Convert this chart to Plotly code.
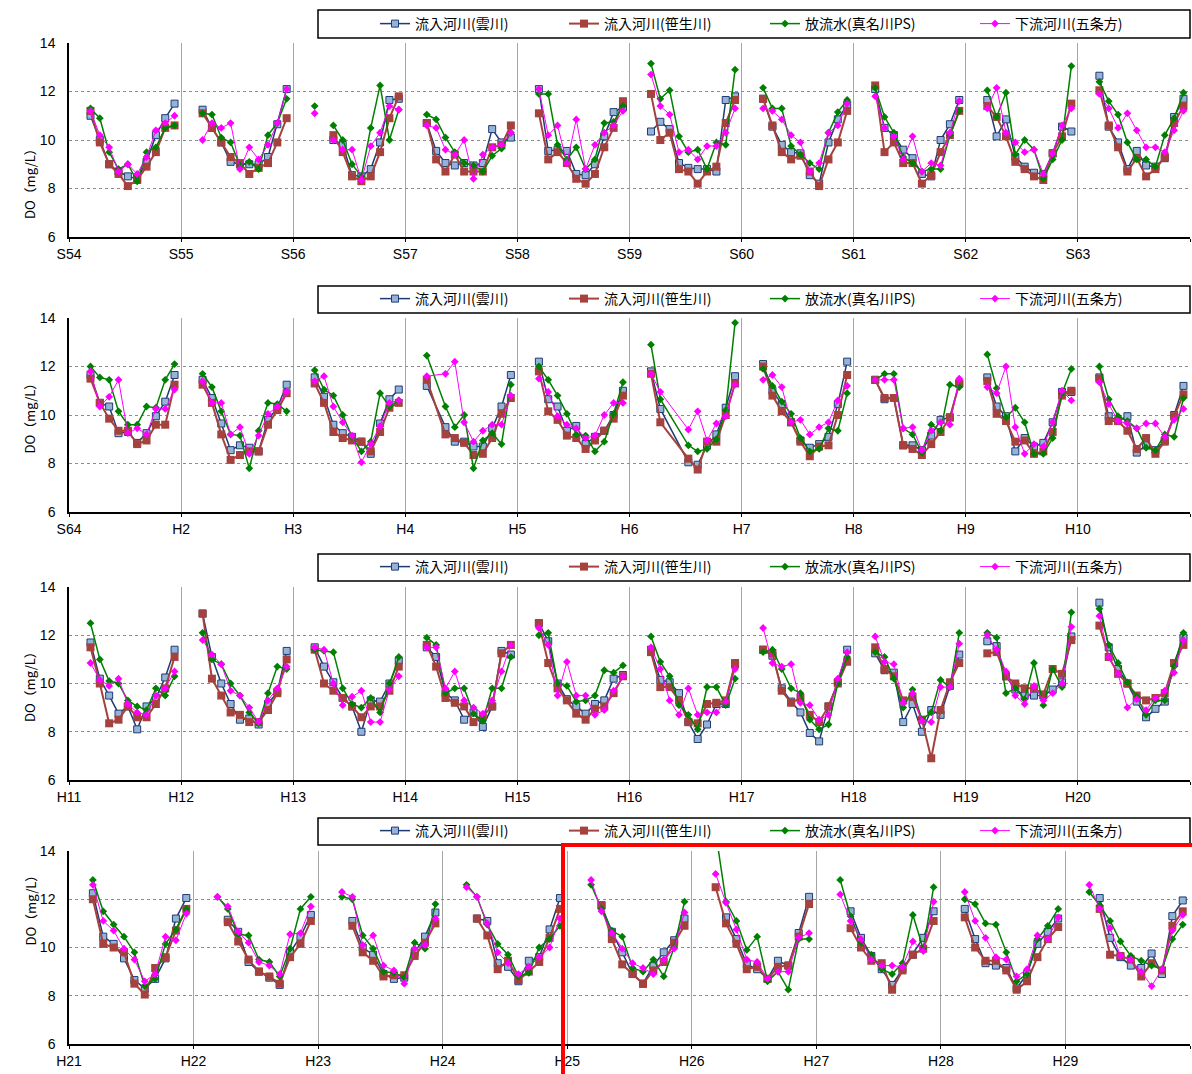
import plotly.graph_objects as go

FONT = "Noto Sans CJK JP"
TICK_FONT = "Liberation Sans"

SERIES_NAMES = ["流入河川(雲川)", "流入河川(笹生川)", "放流水(真名川PS)", "下流河川(五条方)"]

# sampling months of a normal year (Mar..Dec); some years differ
MONTHS = [3, 4, 5, 6, 7, 8, 9, 10, 11, 12]
MONTHS_BY_YEAR = {
    "H4": [3, 5, 6, 7, 8, 9, 10, 11, 12],
    "H6": [3, 4, 7, 8, 9, 10, 11, 12],
}

# ---------------- panel 1: S54 - S63 ----------------
YEARS_P1 = ["S54", "S55", "S56", "S57", "S58", "S59", "S60", "S61", "S62", "S63"]
KUMO_P1 = [
    [11.0, 10.0, 9.0, 8.7, 8.5, 8.4, 9.1, 10.2, 10.9, 11.5],
    [11.25, 10.5, 9.9, 9.1, 9.0, 9.0, 9.0, 9.3, 10.65, 12.1],
    [None, None, 10.0, 9.8, 8.55, 8.5, 8.8, 9.9, 11.65, 11.7],
    [10.7, 9.55, 9.05, 8.95, 9.05, 8.95, 9.05, 10.45, 9.9, 10.1],
    [12.1, 9.55, 9.6, 9.55, 8.6, 8.55, 9.0, 10.15, 11.15, 11.35],
    [10.35, 10.75, 10.45, 9.05, 8.85, 8.8, 8.8, 8.7, 11.65, 11.8],
    [11.7, 10.55, 9.8, 9.5, 9.45, 8.55, 8.2, 9.9, 10.85, 11.45],
    [12.1, 10.5, 10.2, 9.6, 9.25, 8.6, 8.5, 10.0, 10.65, 11.65],
    [11.65, 10.15, 10.85, 9.3, 8.9, 8.65, 8.6, 9.45, 10.55, 10.35],
    [12.65, 10.55, 9.9, 8.8, 9.55, 8.95, 8.9, 9.25, 10.95, 11.7],
]
SASO_P1 = [
    [11.2, 9.9, 9.0, 8.6, 8.1, 8.35, 8.9, 9.5, 10.5, 10.6],
    [11.1, 10.5, 9.9, 9.3, 9.05, 8.6, 8.85, 9.05, 9.9, 10.9],
    [None, None, 10.2, 9.5, 8.5, 8.3, 8.5, 9.5, 10.9, 11.8],
    [10.7, 9.2, 8.7, 9.4, 8.7, 8.7, 8.7, 9.7, 9.8, 10.6],
    [11.1, 9.2, 9.5, 9.05, 8.4, 8.2, 8.6, 9.7, 10.5, 11.6],
    [11.9, 10.0, 10.3, 8.8, 8.7, 8.2, 8.7, 8.9, 10.7, 11.65],
    [11.7, 10.6, 9.5, 9.2, 9.35, 8.7, 8.1, 9.2, 9.9, 11.2],
    [12.25, 9.5, 9.9, 9.05, 9.05, 8.2, 8.55, 9.5, 10.2, 11.2],
    [11.4, 10.95, 10.15, 9.1, 8.8, 8.5, 8.35, 9.45, 10.15, 11.5],
    [12.05, 10.6, 9.7, 8.7, 9.25, 8.5, 8.8, 9.3, 10.7, 11.4],
]
MANA_P1 = [
    [11.3, 10.9, 9.5, 8.8, 9.0, 8.3, 9.5, 9.7, 10.5, 10.6],
    [11.1, 11.05, 10.1, 9.9, 8.95, 9.1, 8.8, 10.2, 10.7, 11.7],
    [11.4, None, 10.6, 10.0, 9.0, 8.5, 10.5, 12.25, 10.0, 11.25],
    [11.05, 10.85, 10.1, 9.5, 9.05, 8.95, 8.7, 9.35, 9.65, 10.3],
    [11.9, 11.9, 9.8, 9.2, 9.7, 8.8, 9.2, 10.7, 10.75, 11.4],
    [13.15, 11.7, 12.05, 10.15, 9.5, 9.6, 8.8, 9.9, 9.8, 12.9],
    [12.15, 11.3, 11.3, 9.75, 9.4, 9.05, 8.8, 10.3, 11.15, 11.65],
    [12.15, 10.95, 10.3, 9.3, 9.05, 8.7, 8.8, 8.8, 10.2, 11.2],
    [12.05, 10.95, 11.95, 9.4, 10.0, 9.6, 8.4, 9.2, 10.0, 13.05],
    [12.4, 11.6, 11.05, 9.9, 9.2, 9.2, 8.9, 10.2, 10.9, 11.95],
]
GOJO_P1 = [
    [11.2, 10.2, 9.7, 8.7, 9.0, 8.6, 9.3, 10.4, 10.7, 11.0],
    [10.0, 10.7, 10.5, 10.7, 8.8, 9.7, 9.2, 9.8, 10.7, 12.1],
    [11.1, None, 10.0, 9.6, 9.6, 8.35, 9.75, 10.3, 11.4, 11.25],
    [10.6, 10.5, 9.6, 9.4, 10.0, 8.4, 9.4, 9.7, 9.8, 10.3],
    [12.1, 10.2, 10.6, 9.05, 10.85, 8.8, 9.8, 10.3, 10.6, 11.2],
    [12.7, 11.4, 11.05, 9.5, 9.6, 9.2, 9.75, 9.75, 10.3, 11.3],
    [11.3, 11.2, 10.85, 10.2, 9.9, 8.7, 9.05, 10.3, 10.6, 11.5],
    [11.8, 10.5, 10.15, 9.2, 10.15, 8.7, 9.05, 8.95, 10.3, 11.6],
    [11.3, 12.15, 10.3, 9.9, 9.5, 9.6, 8.6, 9.45, 10.6, 11.3],
    [11.9, 11.3, 10.5, 11.1, 10.4, 9.7, 9.7, 9.5, 10.4, 11.2],
]

# ---------------- panel 2: S64 - H10 ----------------
YEARS_P2 = ["S64", "H2", "H3", "H4", "H5", "H6", "H7", "H8", "H9", "H10"]
KUMO_P2 = [
    [11.65, 10.5, 10.35, 9.25, 9.3, 8.85, 9.25, 9.95, 10.55, 11.65],
    [11.45, 10.7, 9.65, 8.55, 8.75, 8.65, 8.5, 9.8, 10.3, 11.25],
    [11.55, 10.75, 9.6, 9.25, 9.1, 8.9, 8.4, 9.65, 10.65, 11.05],
    [11.2, 9.5, 8.9, 8.9, 8.7, 8.7, 9.45, 10.35, 11.65],
    [12.2, 10.65, 10.35, 9.35, 9.55, 8.8, 9.1, 9.35, 10.0, 11.0],
    [11.8, 10.25, 8.05, 7.95, 8.75, 9.2, 10.3, 11.6],
    [12.1, 11.0, 10.45, 9.7, 8.95, 8.65, 8.8, 9.1, 10.45, 12.2],
    [11.45, 10.65, 10.7, 8.75, 8.75, 8.55, 9.15, 9.8, 9.9, 11.3],
    [11.55, 10.35, 9.95, 8.5, 9.05, 8.7, 8.85, 9.7, 10.95, 10.95],
    [11.55, 9.95, 9.75, 9.95, 8.45, 8.75, 8.55, 8.95, 10.0, 11.2],
]
SASO_P2 = [
    [11.5, 10.5, 9.85, 9.35, 9.35, 8.8, 8.95, 9.6, 9.6, 11.25],
    [11.25, 10.5, 9.2, 8.15, 8.35, 8.5, 8.5, 9.6, 10.2, 10.9],
    [11.3, 10.5, 9.3, 9.05, 8.95, 8.9, 8.5, 9.3, 10.3, 10.5],
    [11.45, 9.2, 9.05, 8.85, 8.35, 8.4, 9.05, 10.05, 10.7],
    [11.8, 10.15, 9.8, 9.15, 9.05, 8.6, 8.95, 9.35, 9.85, 10.8],
    [11.7, 9.7, 8.2, 7.75, 8.9, 8.9, 10.0, 11.3],
    [12.0, 10.8, 10.15, 9.7, 8.9, 8.3, 8.7, 8.75, 10.0, 11.65],
    [11.45, 10.7, 10.7, 8.75, 8.6, 8.35, 8.8, 9.3, 9.9, 11.3],
    [11.4, 10.05, 9.75, 8.9, 8.95, 8.4, 8.5, 9.3, 10.8, 11.0],
    [11.5, 9.75, 9.75, 9.35, 8.6, 9.05, 8.4, 8.9, 9.95, 10.85],
]
MANA_P2 = [
    [12.0, 11.55, 11.45, 10.15, 9.6, 9.6, 10.35, 10.3, 11.45, 12.1],
    [11.7, 11.15, 10.15, 9.2, 9.15, 7.8, 9.35, 10.5, 10.45, 10.15],
    [11.85, 11.05, 10.8, 10.0, 9.1, 8.5, 8.9, 10.9, 10.35, 10.6],
    [12.45, 10.35, 9.5, 10.0, 7.8, 8.95, 9.25, 8.8, 11.25],
    [12.0, 11.45, 10.8, 10.05, 9.2, 9.15, 8.5, 8.9, 10.05, 11.35],
    [12.9, 10.65, 8.75, 8.5, 8.6, 9.0, 10.2, 13.8],
    [11.9, 11.2, 10.55, 10.05, 9.05, 8.5, 8.6, 9.45, 9.35, 10.9],
    [11.45, 11.7, 11.7, 9.45, 9.2, 8.45, 9.6, 9.35, 11.25, 11.15],
    [12.5, 11.1, 9.9, 10.3, 9.7, 8.4, 8.4, 9.05, 10.9, 11.9],
    [12.0, 10.65, 9.95, 9.75, 9.45, 8.65, 8.55, 9.2, 9.1, 10.7],
]
GOJO_P2 = [
    [11.8, 10.35, 10.75, 11.45, 9.25, 9.45, 9.2, 10.25, 10.25, 11.05],
    [11.4, 10.5, 10.5, 9.2, 9.5, 8.4, 9.15, 10.05, 10.35, 10.95],
    [11.4, 11.6, 10.35, 9.7, 9.15, 8.05, 8.8, 9.55, 10.5, 10.6],
    [11.6, 11.7, 12.2, 9.7, 8.9, 9.35, 9.6, 9.6, 10.8],
    [11.5, 10.95, 9.95, 9.6, 9.45, 9.05, 9.15, 10.0, 10.5, 10.5],
    [11.7, 10.95, 9.4, 10.15, 8.95, 9.65, 9.95, 11.25],
    [11.45, 11.65, 11.15, 9.7, 9.8, 9.2, 9.5, 9.7, 10.6, 11.2],
    [11.45, 11.45, 11.45, 9.45, 9.5, 8.55, 9.35, 9.7, 9.6, 11.5],
    [11.15, 10.9, 12.0, 9.5, 8.4, 8.8, 8.7, 9.7, 11.0, 10.6],
    [11.35, 10.45, 9.75, 9.65, 9.45, 9.65, 9.65, 9.1, 9.8, 10.25],
]

# ---------------- panel 3: H11 - H20 ----------------
YEARS_P3 = ["H11", "H12", "H13", "H14", "H15", "H16", "H17", "H18", "H19", "H20"]
KUMO_P3 = [
    [11.7, 10.2, 9.5, 8.75, 9.05, 8.1, 9.05, 9.4, 10.25, 11.4],
    [12.9, 11.1, 10.0, 9.15, 8.5, 8.55, 8.3, 9.15, 9.65, 11.35],
    [11.5, 10.7, 10.05, 9.4, 9.05, 8.0, 9.3, 9.25, 10.0, 10.95],
    [11.5, 11.1, 9.6, 9.3, 8.5, 8.8, 8.2, 9.05, 11.35, 11.2],
    [12.5, 11.75, 10.0, 9.35, 9.05, 8.75, 9.15, 9.3, 10.2, 10.35],
    [11.4, 10.15, 10.05, 9.6, 8.4, 7.7, 8.3, 9.15, 9.15, 10.8],
    [11.4, 11.15, 9.8, 9.25, 8.8, 7.95, 7.6, 9.05, 10.05, 11.4],
    [11.25, 10.55, 10.45, 8.4, 9.15, 8.0, 8.9, 8.7, 9.9, 11.2],
    [11.75, 11.55, 10.3, 9.75, 9.5, 9.5, 9.5, 9.75, 10.05, 11.95],
    [13.35, 11.5, 10.6, 10.0, 9.25, 8.6, 8.95, 9.25, 10.85, 11.9],
]
SASO_P3 = [
    [11.5, 10.0, 8.35, 8.5, 9.05, 8.6, 8.6, 9.15, 9.8, 11.1],
    [12.9, 10.2, 9.5, 8.8, 8.7, 8.4, 8.4, 8.9, 9.6, 11.0],
    [11.4, 10.0, 9.7, 9.4, 9.05, 8.6, 9.05, 9.05, 9.7, 10.7],
    [11.6, 10.7, 9.4, 9.2, 9.05, 8.4, 8.65, 9.05, 11.25, 11.6],
    [12.5, 10.85, 9.8, 9.3, 8.75, 8.5, 8.95, 9.05, 9.6, 10.3],
    [11.3, 9.85, 9.85, 9.3, 8.4, 8.35, 9.15, 9.2, 9.3, 10.85],
    [11.4, 11.25, 9.7, 9.2, 9.4, 8.7, 8.4, 9.05, 10.0, 10.9],
    [11.5, 10.6, 10.3, 9.3, 9.45, 8.5, 6.9, 8.9, 10.05, 10.85],
    [11.25, 11.3, 10.3, 10.0, 9.8, 9.8, 9.55, 10.6, 10.4, 11.8],
    [12.4, 11.1, 10.4, 10.0, 9.5, 9.3, 9.4, 9.6, 10.85, 11.6],
]
MANA_P3 = [
    [12.5, 11.0, 10.1, 10.0, 9.3, 9.05, 8.9, 9.8, 9.5, 10.3],
    [12.1, 11.0, 10.8, 10.0, 9.5, 8.8, 8.35, 9.6, 10.7, 10.6],
    [11.4, 11.35, 11.3, 9.8, 9.15, 9.0, 9.4, 8.8, 10.0, 11.1],
    [11.9, 11.6, 9.6, 9.8, 9.8, 8.75, 8.45, 9.8, 9.8, 11.1],
    [12.0, 12.1, 10.0, 9.9, 9.25, 9.3, 9.5, 10.55, 10.45, 10.75],
    [11.95, 10.9, 10.3, 9.1, 8.7, 8.1, 9.85, 9.85, 9.1, 10.2],
    [11.3, 11.4, 10.6, 9.8, 9.6, 8.5, 8.1, 8.3, 10.0, 11.1],
    [11.3, 11.1, 10.2, 9.0, 9.75, 8.5, 8.8, 10.15, 9.85, 12.1],
    [12.1, 11.9, 9.6, 9.8, 9.35, 10.85, 9.1, 10.6, 9.85, 12.95],
    [13.1, 11.6, 10.85, 10.05, 9.45, 8.7, 9.3, 9.3, 10.7, 12.1],
]
GOJO_P3 = [
    [10.85, 10.15, 9.9, 10.2, 9.15, 8.8, 8.7, 9.5, 9.8, 10.5],
    [11.8, 11.2, 10.8, 9.7, 9.5, 9.0, 8.4, 9.3, 9.8, 10.7],
    [11.5, 11.4, 10.0, 9.1, 9.45, 9.7, 8.4, 8.4, 9.75, 10.3],
    [11.5, 11.5, 9.8, 10.5, 9.3, 9.0, 8.75, 9.3, 10.5, 11.6],
    [12.3, 11.6, 9.5, 10.9, 9.5, 9.5, 8.7, 8.9, 9.7, 10.3],
    [11.5, 10.6, 9.3, 8.7, 9.8, 8.7, 8.8, 8.8, 9.25, 10.6],
    [12.3, 10.85, 10.7, 10.8, 9.2, 9.1, 8.5, 8.7, 10.2, 11.3],
    [11.95, 10.9, 10.8, 9.2, 9.6, 8.45, 8.4, 9.85, 9.85, 11.65],
    [12.0, 11.4, 10.5, 9.5, 9.15, 9.9, 9.3, 9.6, 10.0, 12.35],
    [12.8, 11.1, 10.4, 9.0, 9.35, 8.9, 9.4, 9.7, 10.45, 11.8],
]

# ---------------- panel 4: H21 - H29 ----------------
YEARS_P4 = ["H21", "H22", "H23", "H24", "H25", "H26", "H27", "H28", "H29"]
KUMO_P4 = [
    [12.25, 10.45, 10.15, 9.55, 8.65, 8.3, 8.7, 9.55, 11.2, 12.05],
    [None, 11.15, 10.65, 9.4, 9.0, 8.75, 8.45, 9.8, 10.45, 11.35],
    [None, 11.1, 10.0, 9.7, 8.9, 8.7, 8.75, 9.8, 10.45, 11.45],
    [None, 11.2, 11.1, 9.35, 9.2, 8.6, 9.45, 9.6, 10.75, 12.05],
    [None, 11.75, 10.65, 9.8, 8.9, 8.5, 9.25, 9.8, 10.3, 11.2],
    [None, 11.25, 10.35, 9.3, 9.1, 8.7, 9.45, 9.25, 10.6, 12.1],
    [None, 11.5, 10.4, 9.65, 9.1, 8.45, 9.1, 9.7, 10.4, 11.5],
    [11.6, 10.35, 9.35, 9.25, 9.15, 8.3, 8.9, 10.15, 10.65, 11.2],
    [None, 12.05, 10.4, 9.6, 9.25, 9.15, 9.75, 8.9, 11.3, 11.95],
]
SASO_P4 = [
    [12.0, 10.15, 10.0, 9.8, 8.5, 8.05, 9.15, 9.6, 10.7, 11.6],
    [None, 11.05, 10.25, 9.5, 9.0, 8.8, 8.5, 9.6, 10.15, 11.1],
    [None, 10.9, 9.8, 9.45, 8.8, 8.85, 8.85, 9.65, 10.2, 11.0],
    [None, 11.2, 10.5, 9.1, 9.45, 8.65, 9.0, 9.4, 10.4, 11.6],
    [None, 11.75, 10.35, 9.3, 8.9, 8.5, 9.05, 9.4, 10.2, 10.9],
    [12.5, 11.0, 10.15, 9.1, 9.2, 8.7, 9.2, 9.25, 10.45, 11.8],
    [None, 10.8, 10.0, 9.45, 9.35, 8.25, 9.05, 9.7, 9.95, 11.1],
    [11.25, 10.0, 9.45, 9.45, 9.05, 8.25, 8.6, 9.6, 10.35, 10.85],
    [None, 11.6, 9.7, 9.65, 9.5, 8.8, 9.35, 9.05, 10.9, 11.5],
]
MANA_P4 = [
    [12.8, 11.5, 10.95, 10.45, 9.8, 8.4, 8.7, 10.15, 10.75, 11.6],
    [12.1, 11.6, 10.55, 10.5, 9.5, 9.4, 8.8, 9.95, 11.6, 12.1],
    [12.1, 12.0, 10.5, 9.95, 9.0, 8.95, 8.75, 10.2, 9.95, 11.8],
    [12.6, 12.1, 10.95, 10.15, 9.7, 8.8, 8.95, 10.0, 10.35, 10.9],
    [12.6, 11.6, 10.7, 10.45, 9.15, 9.0, 9.5, 8.8, 10.0, 11.9],
    [14.8, 11.9, 11.1, 9.9, 10.45, 8.6, 9.0, 8.25, 10.35, 10.35],
    [12.8, 11.3, 10.2, 9.7, 9.1, 8.9, 9.35, 11.35, 9.95, 12.5],
    [12.0, 11.8, 11.0, 10.95, 9.8, 8.6, 8.9, 10.35, 10.9, 11.6],
    [12.3, 11.75, 11.1, 10.25, 9.65, 9.45, 9.25, 9.1, 10.35, 10.95],
]
GOJO_P4 = [
    [12.6, 11.1, 10.7, 9.95, 9.5, 8.6, 8.9, 10.45, 10.3, 11.4],
    [12.1, 11.7, 10.65, 10.2, 9.4, 9.25, 8.9, 10.55, 10.6, 11.7],
    [12.3, 12.1, 10.1, 10.5, 9.25, 9.05, 8.5, 9.95, 10.1, 11.2],
    [12.5, 12.1, 11.0, 9.8, 9.35, 8.9, 9.2, 9.6, 10.0, 11.2],
    [12.8, 11.5, 10.6, 9.95, 9.35, 9.15, 8.9, 9.5, 9.95, 11.45],
    [13.05, 11.85, 10.75, 9.5, 9.4, 8.7, 9.0, 9.0, 10.4, 10.6],
    [12.2, 11.1, 10.35, 9.5, 9.25, 9.25, 9.2, 10.25, 9.85, 11.9],
    [12.3, 11.1, 10.4, 9.6, 9.5, 8.8, 9.1, 10.5, 10.35, 11.25],
    [12.6, 11.6, 10.8, 9.65, 9.5, 9.0, 8.4, 9.1, 10.7, 11.35],
]

PANELS = [
    (YEARS_P1, [KUMO_P1, SASO_P1, MANA_P1, GOJO_P1]),
    (YEARS_P2, [KUMO_P2, SASO_P2, MANA_P2, GOJO_P2]),
    (YEARS_P3, [KUMO_P3, SASO_P3, MANA_P3, GOJO_P3]),
    (YEARS_P4, [KUMO_P4, SASO_P4, MANA_P4, GOJO_P4]),
]

STYLES = [
    dict(line=dict(color="#1F3B73", width=1.5),
         marker=dict(symbol="square", size=7, color="#95B3D7",
                     line=dict(color="#1F3B73", width=1))),
    dict(line=dict(color="#A5423E", width=2),
         marker=dict(symbol="square", size=8, color="#A5423E",
                     line=dict(color="#A5423E", width=0))),
    dict(line=dict(color="#008000", width=1.5),
         marker=dict(symbol="diamond", size=6, color="#008000")),
    dict(line=dict(color="#FF00FF", width=1),
         marker=dict(symbol="diamond", size=6, color="#FF00FF")),
]

# page geometry (pixels)
W, H = 1192, 1074
ML, MR, MT, MB = 69, 2, 43, 30
PANEL_PX = [(43, 237), (318, 512), (587, 780), (851, 1044)]
LEGEND_ROW_PX = [24, 299, 567, 831]
LEGEND_BOX_PX = [(10, 38), (286, 313), (554, 581), (818, 845)]
LEGEND_MARKER_PX = [395, 584, 785, 995]


def px_x(px):
    return (px - ML) / (W - ML - MR)


def px_y(py):
    return (H - MB - py) / (H - MT - MB)


def year_series(years, values):
    xs, ys = [], []
    for i, (year, vals) in enumerate(zip(years, values)):
        months = MONTHS_BY_YEAR.get(year, MONTHS)
        for m, v in zip(months, vals):
            xs.append(i + (m - 0.7) / 12)
            ys.append(v)
        xs.append(None)
        ys.append(None)
    return xs, ys


fig = go.Figure()
layout = dict(
    width=W,
    height=H,
    margin=dict(l=ML, r=MR, t=MT, b=MB),
    paper_bgcolor="white",
    plot_bgcolor="white",
    font=dict(family=FONT, size=13, color="black"),
    showlegend=True,
)

shapes = []
annotations = []

for p, (years, series) in enumerate(PANELS):
    ax = "" if p == 0 else str(p + 1)
    top, bottom = PANEL_PX[p]
    layout[f"xaxis{ax}"] = dict(
        domain=[0, 1],
        anchor=f"y{ax}",
        range=[0, len(years)],
        tickvals=list(range(len(years) + 1)),
        ticktext=years + [""],
        showgrid=True,
        gridcolor="#A6A6A6",
        gridwidth=1,
        showline=True,
        linecolor="black",
        linewidth=1.5,
        ticks="outside",
        ticklen=3,
        tickcolor="black",
        tickfont=dict(family=TICK_FONT, size=14),
        zeroline=False,
        fixedrange=True,
    )
    layout[f"yaxis{ax}"] = dict(
        domain=[px_y(bottom), px_y(top)],
        anchor=f"x{ax}",
        range=[6, 14],
        tickvals=[6, 8, 10, 12, 14],
        showgrid=True,
        gridcolor="#8C8C8C",
        griddash="dot",
        gridwidth=1,
        showline=True,
        linecolor="black",
        linewidth=1.5,
        ticks="",
        ticklabelstandoff=9,
        tickfont=dict(family=TICK_FONT, size=14),
        zeroline=False,
        fixedrange=True,
    )

    for s, values in enumerate(series):
        xs, ys = year_series(years, values)
        idx = p * 4 + s + 1
        legend_name = "legend" if idx == 1 else f"legend{idx}"
        fig.add_trace(go.Scatter(
            x=xs,
            y=ys,
            mode="lines+markers",
            name=SERIES_NAMES[s],
            xaxis=f"x{ax}",
            yaxis=f"y{ax}",
            legend=legend_name,
            showlegend=True,
            **STYLES[s],
        ))
        layout[legend_name] = dict(
            x=px_x(LEGEND_MARKER_PX[s] - 20),
            xanchor="left",
            y=px_y(LEGEND_ROW_PX[p]),
            yanchor="middle",
            orientation="h",
            bgcolor="rgba(0,0,0,0)",
            borderwidth=0,
            font=dict(family=FONT, size=14, color="black"),
        )

    box_top, box_bottom = LEGEND_BOX_PX[p]
    shapes.append(dict(
        type="rect", xref="paper", yref="paper",
        x0=px_x(318), x1=px_x(1190),
        y0=px_y(box_bottom), y1=px_y(box_top),
        line=dict(color="black", width=1.5),
        fillcolor="rgba(0,0,0,0)",
    ))
    annotations.append(dict(
        text="DO（mg/L）", xref="paper", yref="paper",
        x=px_x(18), y=px_y((top + bottom) / 2),
        textangle=-90, showarrow=False,
        font=dict(family=FONT, size=13, color="black"),
    ))

# red highlight frame around H25 onward
shapes.append(dict(
    type="line", xref="paper", yref="paper",
    x0=px_x(563), x1=px_x(563), y0=px_y(845), y1=px_y(1080),
    line=dict(color="#FF0000", width=4),
))
shapes.append(dict(
    type="line", xref="paper", yref="paper",
    x0=px_x(561), x1=px_x(1195), y0=px_y(845), y1=px_y(845),
    line=dict(color="#FF0000", width=4),
))

layout["shapes"] = shapes
layout["annotations"] = annotations
fig.update_layout(**layout)

# the page's default body margin would shift the fixed-size figure
fig.write_html(
    "out.html",
    config={"displayModeBar": False},
    post_script="document.body.style.margin='0';",
)
